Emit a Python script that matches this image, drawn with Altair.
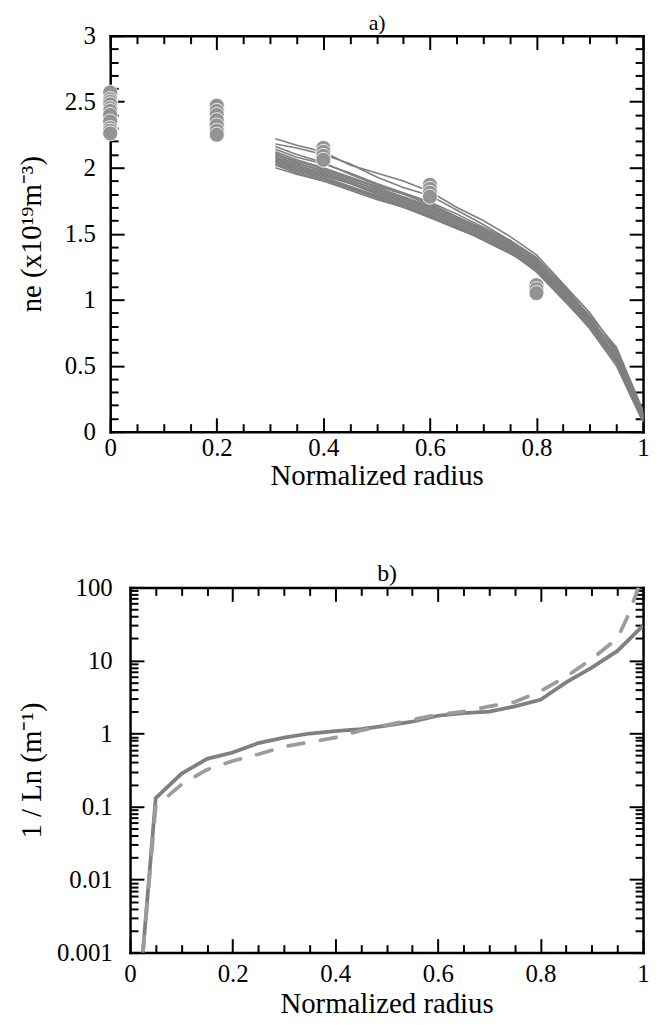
import altair as alt
import pandas as pd

FONT = "Liberation Serif"

# ---------------- Panel a) data ----------------
prof_r = [0.31, 0.35, 0.40, 0.45, 0.50, 0.55, 0.60, 0.65, 0.70, 0.75, 0.80, 0.85, 0.90, 0.95, 1.00]
profiles = [
    [2.22, 2.17, 2.12, 2.02, 1.96, 1.90, 1.82, 1.70, 1.60, 1.48, 1.34, 1.12, 0.90, 0.62, 0.14],
    [2.18, 2.15, 2.10, 2.03, 1.93, 1.85, 1.79, 1.68, 1.57, 1.45, 1.32, 1.10, 0.86, 0.60, 0.12],
    [2.14, 2.08, 2.03, 1.96, 1.88, 1.81, 1.74, 1.65, 1.55, 1.45, 1.30, 1.08, 0.88, 0.64, 0.16],
    [2.12, 2.06, 2.00, 1.93, 1.86, 1.80, 1.72, 1.62, 1.53, 1.43, 1.29, 1.09, 0.84, 0.57, 0.10],
    [2.10, 2.05, 1.99, 1.92, 1.85, 1.78, 1.71, 1.62, 1.52, 1.42, 1.28, 1.07, 0.86, 0.60, 0.12],
    [2.09, 2.03, 1.98, 1.91, 1.83, 1.77, 1.69, 1.60, 1.51, 1.41, 1.27, 1.06, 0.83, 0.56, 0.09],
    [2.08, 2.02, 1.96, 1.89, 1.82, 1.76, 1.68, 1.59, 1.50, 1.40, 1.26, 1.05, 0.82, 0.55, 0.11],
    [2.07, 2.01, 1.95, 1.88, 1.81, 1.75, 1.67, 1.58, 1.49, 1.39, 1.25, 1.04, 0.80, 0.53, 0.08],
    [2.06, 2.00, 1.94, 1.88, 1.80, 1.74, 1.66, 1.57, 1.48, 1.38, 1.24, 1.03, 0.81, 0.54, 0.10],
    [2.05, 1.99, 1.93, 1.86, 1.79, 1.73, 1.65, 1.56, 1.47, 1.37, 1.23, 1.02, 0.79, 0.52, 0.09],
    [2.04, 1.98, 1.92, 1.85, 1.78, 1.72, 1.64, 1.55, 1.46, 1.36, 1.22, 1.01, 0.78, 0.50, 0.07],
    [2.03, 1.97, 1.91, 1.85, 1.78, 1.71, 1.63, 1.54, 1.46, 1.37, 1.23, 1.04, 0.82, 0.58, 0.11],
    [2.02, 1.96, 1.90, 1.84, 1.77, 1.70, 1.63, 1.55, 1.45, 1.35, 1.24, 1.05, 0.84, 0.61, 0.13],
    [2.11, 2.04, 1.97, 1.90, 1.84, 1.77, 1.70, 1.61, 1.51, 1.40, 1.27, 1.08, 0.85, 0.62, 0.14],
    [2.16, 2.10, 2.04, 1.95, 1.87, 1.80, 1.73, 1.63, 1.54, 1.44, 1.31, 1.11, 0.87, 0.59, 0.12],
    [2.00, 1.95, 1.90, 1.83, 1.76, 1.70, 1.62, 1.54, 1.46, 1.36, 1.21, 1.00, 0.79, 0.54, 0.10],
]

circ_r = [0.0] * 11 + [0.2] * 7 + [0.4] * 4 + [0.6] * 4 + [0.8] * 3
circ_v = [2.57, 2.52, 2.50, 2.48, 2.45, 2.43, 2.40, 2.35, 2.30, 2.28, 2.26,
          2.47, 2.43, 2.40, 2.36, 2.32, 2.28, 2.25,
          2.15, 2.12, 2.09, 2.06,
          1.87, 1.84, 1.81, 1.78,
          1.11, 1.08, 1.05]

# ---------------- Panel b) data ----------------
solid_r = [0.025, 0.05, 0.10, 0.15, 0.20, 0.25, 0.30, 0.35, 0.40, 0.45, 0.50,
           0.55, 0.60, 0.65, 0.70, 0.75, 0.80, 0.85, 0.90, 0.95, 1.00]
solid_v = [0.001, 0.13, 0.28, 0.45, 0.55, 0.74, 0.88, 1.0, 1.08, 1.15, 1.28,
           1.45, 1.75, 1.9, 2.0, 2.35, 2.9, 5.0, 8.0, 13.5, 30.0]
dash_r = [0.025, 0.05, 0.10, 0.15, 0.20, 0.25, 0.30, 0.35, 0.40, 0.45, 0.50,
          0.55, 0.60, 0.65, 0.70, 0.75, 0.80, 0.85, 0.90, 0.95, 0.97, 0.99]
dash_v = [0.001, 0.10, 0.20, 0.32, 0.42, 0.52, 0.66, 0.76, 0.88, 1.1, 1.3,
          1.55, 1.8, 2.0, 2.35, 2.7, 3.8, 6.0, 10.5, 20.0, 40.0, 95.0]

# ---------------- Tick positions ----------------
x_major = [0, 0.2, 0.4, 0.6, 0.8, 1.0]
x_minor = [round(i * 0.05, 2) for i in range(21) if i % 4]
ya_major = [0, 0.5, 1, 1.5, 2, 2.5, 3]
ya_minor = [round(i * 0.1, 1) for i in range(31) if i % 5]
yb_major = [0.001, 0.01, 0.1, 1, 10, 100]
yb_minor = [m * 10.0 ** e for e in range(-3, 2) for m in range(2, 10)]

MAJ = 14
MIN = 8
LFS = 25
TFS = 29
W = 537           # common view width
SHIFT_B = 20      # panel b) frame starts this far right of panel a)'s

lines_df = pd.DataFrame(
    [{"r": r, "v": v, "id": i} for i, p in enumerate(profiles) for r, v in zip(prof_r, p)]
)
circ_df = pd.DataFrame({"r": circ_r, "v": circ_v})
solid_df = pd.DataFrame({"r": solid_r, "v": solid_v})
dash_df = pd.DataFrame({"r": dash_r, "v": dash_v})


def ax(orient, values, size, labels=False, title=None, lpad=4, tpad=4, tfs=TFS, shift=0):
    kw = dict(orient=orient, values=values, tickSize=size, offset=-(size + shift),
              domain=False, grid=False, labels=labels, ticks=True,
              tickColor="black", tickWidth=2, title=title, minExtent=0,
              titleFont=FONT, titleFontSize=tfs, titleFontWeight="normal",
              titleColor="black", titlePadding=tpad)
    if labels:
        kw.update(format="~g", labelFlush=False, labelOverlap=False,
                  labelFont=FONT, labelFontSize=LFS, labelColor="black",
                  labelPadding=lpad)
    return alt.Axis(**kw)


def frame_ax(orient, shift=0):
    return alt.Axis(orient=orient, offset=-shift, domain=True, domainColor="black",
                    domainWidth=2.5, domainCap="square", ticks=False, labels=False,
                    grid=False, title=None, minExtent=0)


def panel(layers_main, xs, ys, yvals_major, yvals_minor, df_ghost, ylab, ytpad, ylpad,
          xlpad, xtpad, tag, tagpad, tagfs, shift, height):
    first, second = layers_main
    l1 = first.encode(
        x=alt.X("r:Q", scale=xs, axis=ax("bottom", x_major, MAJ, True, "Normalized radius", xlpad, xtpad)),
        y=alt.Y("v:Q", scale=ys, axis=ax("left", yvals_major, MAJ, True, ylab, ylpad, ytpad, shift=shift)),
    )
    l2 = second.encode(
        x=alt.X("r:Q", scale=xs, axis=ax("bottom", x_minor, MIN)),
        y=alt.Y("v:Q", scale=ys, axis=ax("left", yvals_minor, MIN, shift=shift)),
    )
    ghost = alt.Chart(df_ghost).mark_point(opacity=0)
    l3 = ghost.encode(
        x=alt.X("r:Q", scale=xs, axis=ax("top", x_major, MAJ, False, tag, tpad=tagpad, tfs=tagfs)),
        y=alt.Y("v:Q", scale=ys, axis=ax("right", yvals_major, MAJ)),
    )
    l4 = ghost.encode(
        x=alt.X("r:Q", scale=xs, axis=ax("top", x_minor, MIN)),
        y=alt.Y("v:Q", scale=ys, axis=ax("right", yvals_minor, MIN)),
    )
    l5 = ghost.encode(
        x=alt.X("r:Q", scale=xs, axis=frame_ax("bottom")),
        y=alt.Y("v:Q", scale=ys, axis=frame_ax("left", shift)),
    )
    l6 = ghost.encode(
        x=alt.X("r:Q", scale=xs, axis=frame_ax("top")),
        y=alt.Y("v:Q", scale=ys, axis=frame_ax("right")),
    )
    return alt.layer(l1, l2, l3, l4, l5, l6).resolve_axis(
        x="independent", y="independent"
    ).properties(width=W, height=height)


# ---------------- Panel a) ----------------
xs_a = alt.Scale(domain=[0, 1], nice=False, zero=False, range=[0, W])
ys_a = alt.Scale(domain=[0, 3], nice=False, zero=False)

a_lines = alt.Chart(lines_df).mark_line(color="#7f7f7f", strokeWidth=1.6).encode(detail="id:N")
a_circ = alt.Chart(circ_df).mark_point(
    filled=True, shape="circle", size=230, fill="#939393", stroke="white",
    strokeWidth=0.8, opacity=1
)
panel_a = panel((a_lines, a_circ), xs_a, ys_a, ya_major, ya_minor, circ_df,
                "ne (x10¹⁹m⁻³)", 18, 15, 4, 1, "a)", 0, 22, 0, 399)

# ---------------- Panel b) ----------------
xs_b = alt.Scale(domain=[0, 1], nice=False, zero=False, range=[SHIFT_B, W])
ys_b = alt.Scale(type="log", domain=[0.001, 100], nice=False)

b_dash = alt.Chart(dash_df).mark_line(
    color="#9c9c9c", strokeWidth=3.8, strokeDash=[16, 17], strokeCap="round", clip=True
)
b_solid = alt.Chart(solid_df).mark_line(color="#808080", strokeWidth=3.8, clip=True)
panel_b = panel((b_solid, b_dash), xs_b, ys_b, yb_major, yb_minor, solid_df,
                "1 / Ln (m⁻¹)", 10, 18, 9, 3, "b)", 1, 24, SHIFT_B, 368)

chart = alt.vconcat(panel_a, panel_b, spacing=72).properties(
    padding={"left": 9, "top": 0, "right": 0, "bottom": 0}
).configure_view(
    strokeOpacity=0
)

chart.save("out.html", embed_options={"renderer": "svg", "actions": False})
